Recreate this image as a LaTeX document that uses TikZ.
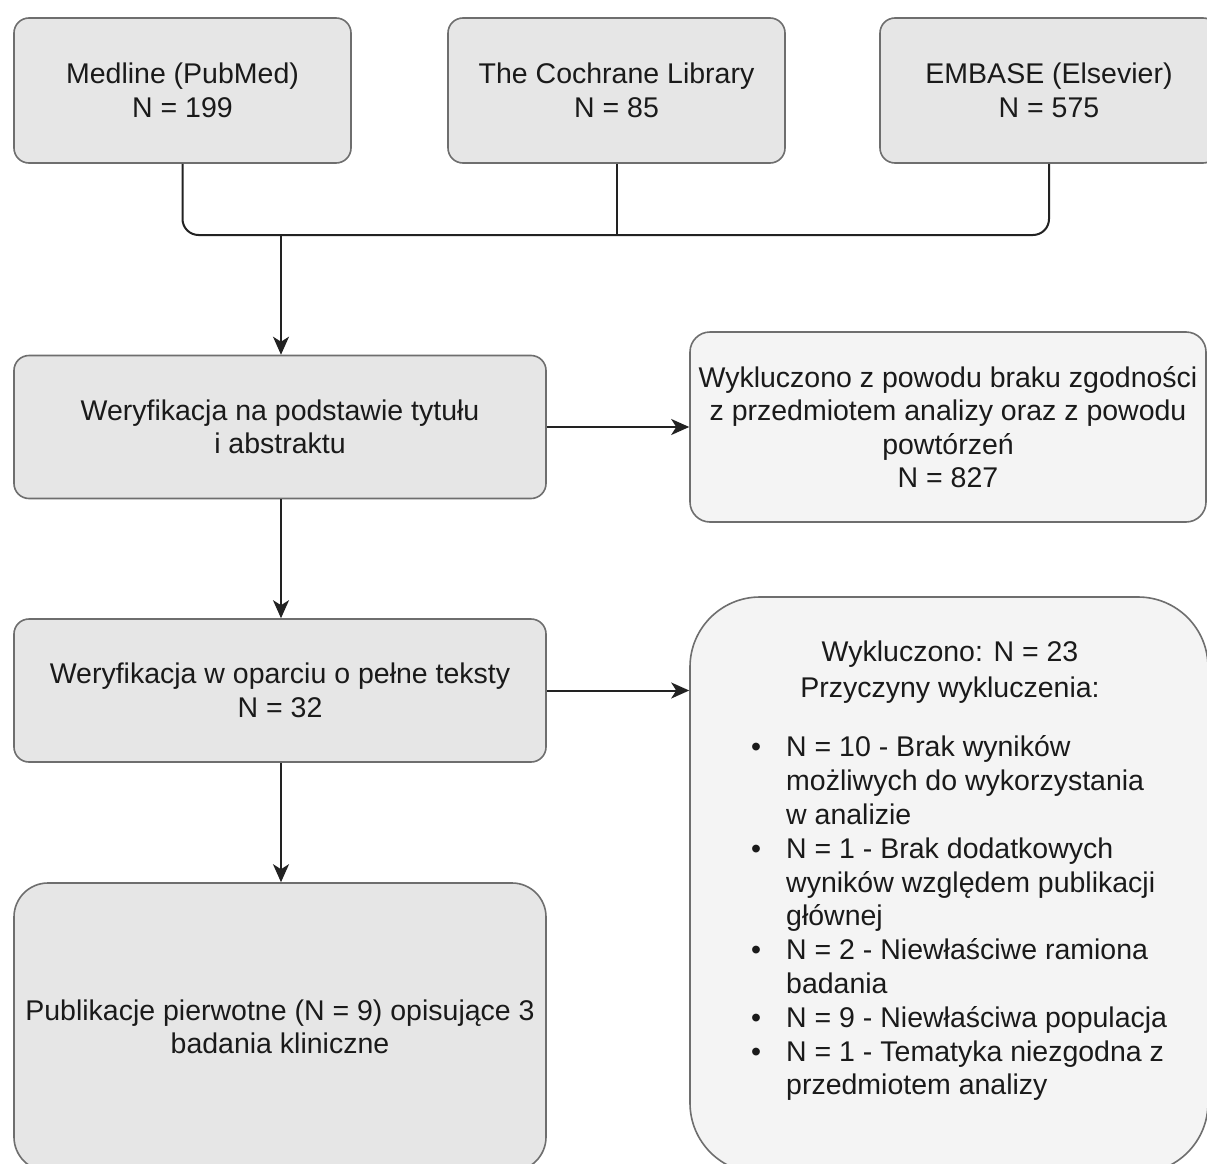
\documentclass[tikz,border=0pt]{standalone}
\usepackage{fontspec}
\setmainfont{Liberation Sans}
\usetikzlibrary{arrows.meta}
\definecolor{boxfill}{HTML}{E6E6E6}
\definecolor{lightfill}{HTML}{F4F4F4}
\definecolor{edge}{HTML}{6E6E6E}
\definecolor{ink}{HTML}{1A1A1A}
\definecolor{wire}{HTML}{222222}

\begin{document}
\begin{tikzpicture}[x=1pt,y=-1pt,
  txt/.style={font=\fontsize{28.5pt}{33.5pt}\selectfont,text=ink,align=center},
  box/.style={txt,draw=edge,line width=1.6pt,fill=boxfill,rounded corners=15pt,inner sep=0pt},
  outbox/.style={box,fill=lightfill},
  link/.style={draw=wire,line width=2pt},
  arrow/.style={link,-{Stealth[length=18pt,width=16pt,inset=5pt]}}]

\clip (0,0) rectangle (1207,1164);
\useasboundingbox (0,0) rectangle (1207,1164);
\fill[white] (0,0) rectangle (1207,1164);

% databases
\node[box,minimum width=337pt,minimum height=145pt] (medline) at (182.5,90.5)
  {Medline (PubMed)\\N = 199};
\node[box,minimum width=337pt,minimum height=145pt] (cochrane) at (616.5,90.5)
  {The Cochrane Library\\N = 85};
\node[box,minimum width=338pt,minimum height=145pt] (embase) at (1049,90.5)
  {EMBASE (Elsevier)\\N = 575};

% screening steps
\node[box,minimum width=532pt,minimum height=143pt] (title) at (280,427)
  {Weryfikacja na podstawie tytułu\\i abstraktu};
\node[outbox,rounded corners=20pt,minimum width=516pt,minimum height=190pt] (excl1) at (948,427)
  {Wykluczono z powodu braku zgodności\\z przedmiotem analizy oraz z powodu\\powtórzeń\\N = 827};
\node[box,minimum width=532pt,minimum height=143pt] (full) at (280,690.5)
  {Weryfikacja w oparciu o pełne teksty\\N = 32};
\node[box,rounded corners=34pt,minimum width=532pt,minimum height=288pt] (final) at (280,1027)
  {Publikacje pierwotne (N = 9) opisujące 3\\badania kliniczne};
\node[outbox,rounded corners=70pt,minimum width=518pt,minimum height=576pt] (excl2) at (949,885) {};

% reasons for exclusion
\node[txt,font=\fontsize{28.5pt}{35.5pt}\selectfont] (excl2head) at (950,672)
  {Wykluczono: N = 23\\Przyczyny wykluczenia:};
\node[txt,font=\fontsize{28.5pt}{33.8pt}\selectfont,align=left,anchor=north west,inner sep=0pt] (excl2list) at (751,733)
  {\begin{tabular}{@{}l@{\hspace{25pt}}l@{}}
   • & N = 10 - Brak wyników\\
     & możliwych do wykorzystania\\
     & w analizie\\
   • & N = 1 - Brak dodatkowych\\
     & wyników względem publikacji\\
     & głównej\\
   • & N = 2 - Niewłaściwe ramiona\\
     & badania\\
   • & N = 9 - Niewłaściwa populacja\\
   • & N = 1 - Tematyka niezgodna z\\
     & przedmiotem analizy
   \end{tabular}};

% merging the database results
\coordinate (join) at (281,235);
\draw[link,rounded corners=16pt] (medline.south) |- (join) -| (embase.south);
\draw[link] (cochrane.south) -- (cochrane.south |- join);
\draw[arrow] (join) -- (title.north -| join);
\draw[arrow] (title.south -| join) -- (full.north -| join);
\draw[arrow] (full.south -| join) -- (final.north -| join);
\draw[arrow] (title.east) -- (title.east -| excl1.west);
\draw[arrow] (full.east) -- (full.east -| excl2.west);
\end{tikzpicture}
\end{document}
